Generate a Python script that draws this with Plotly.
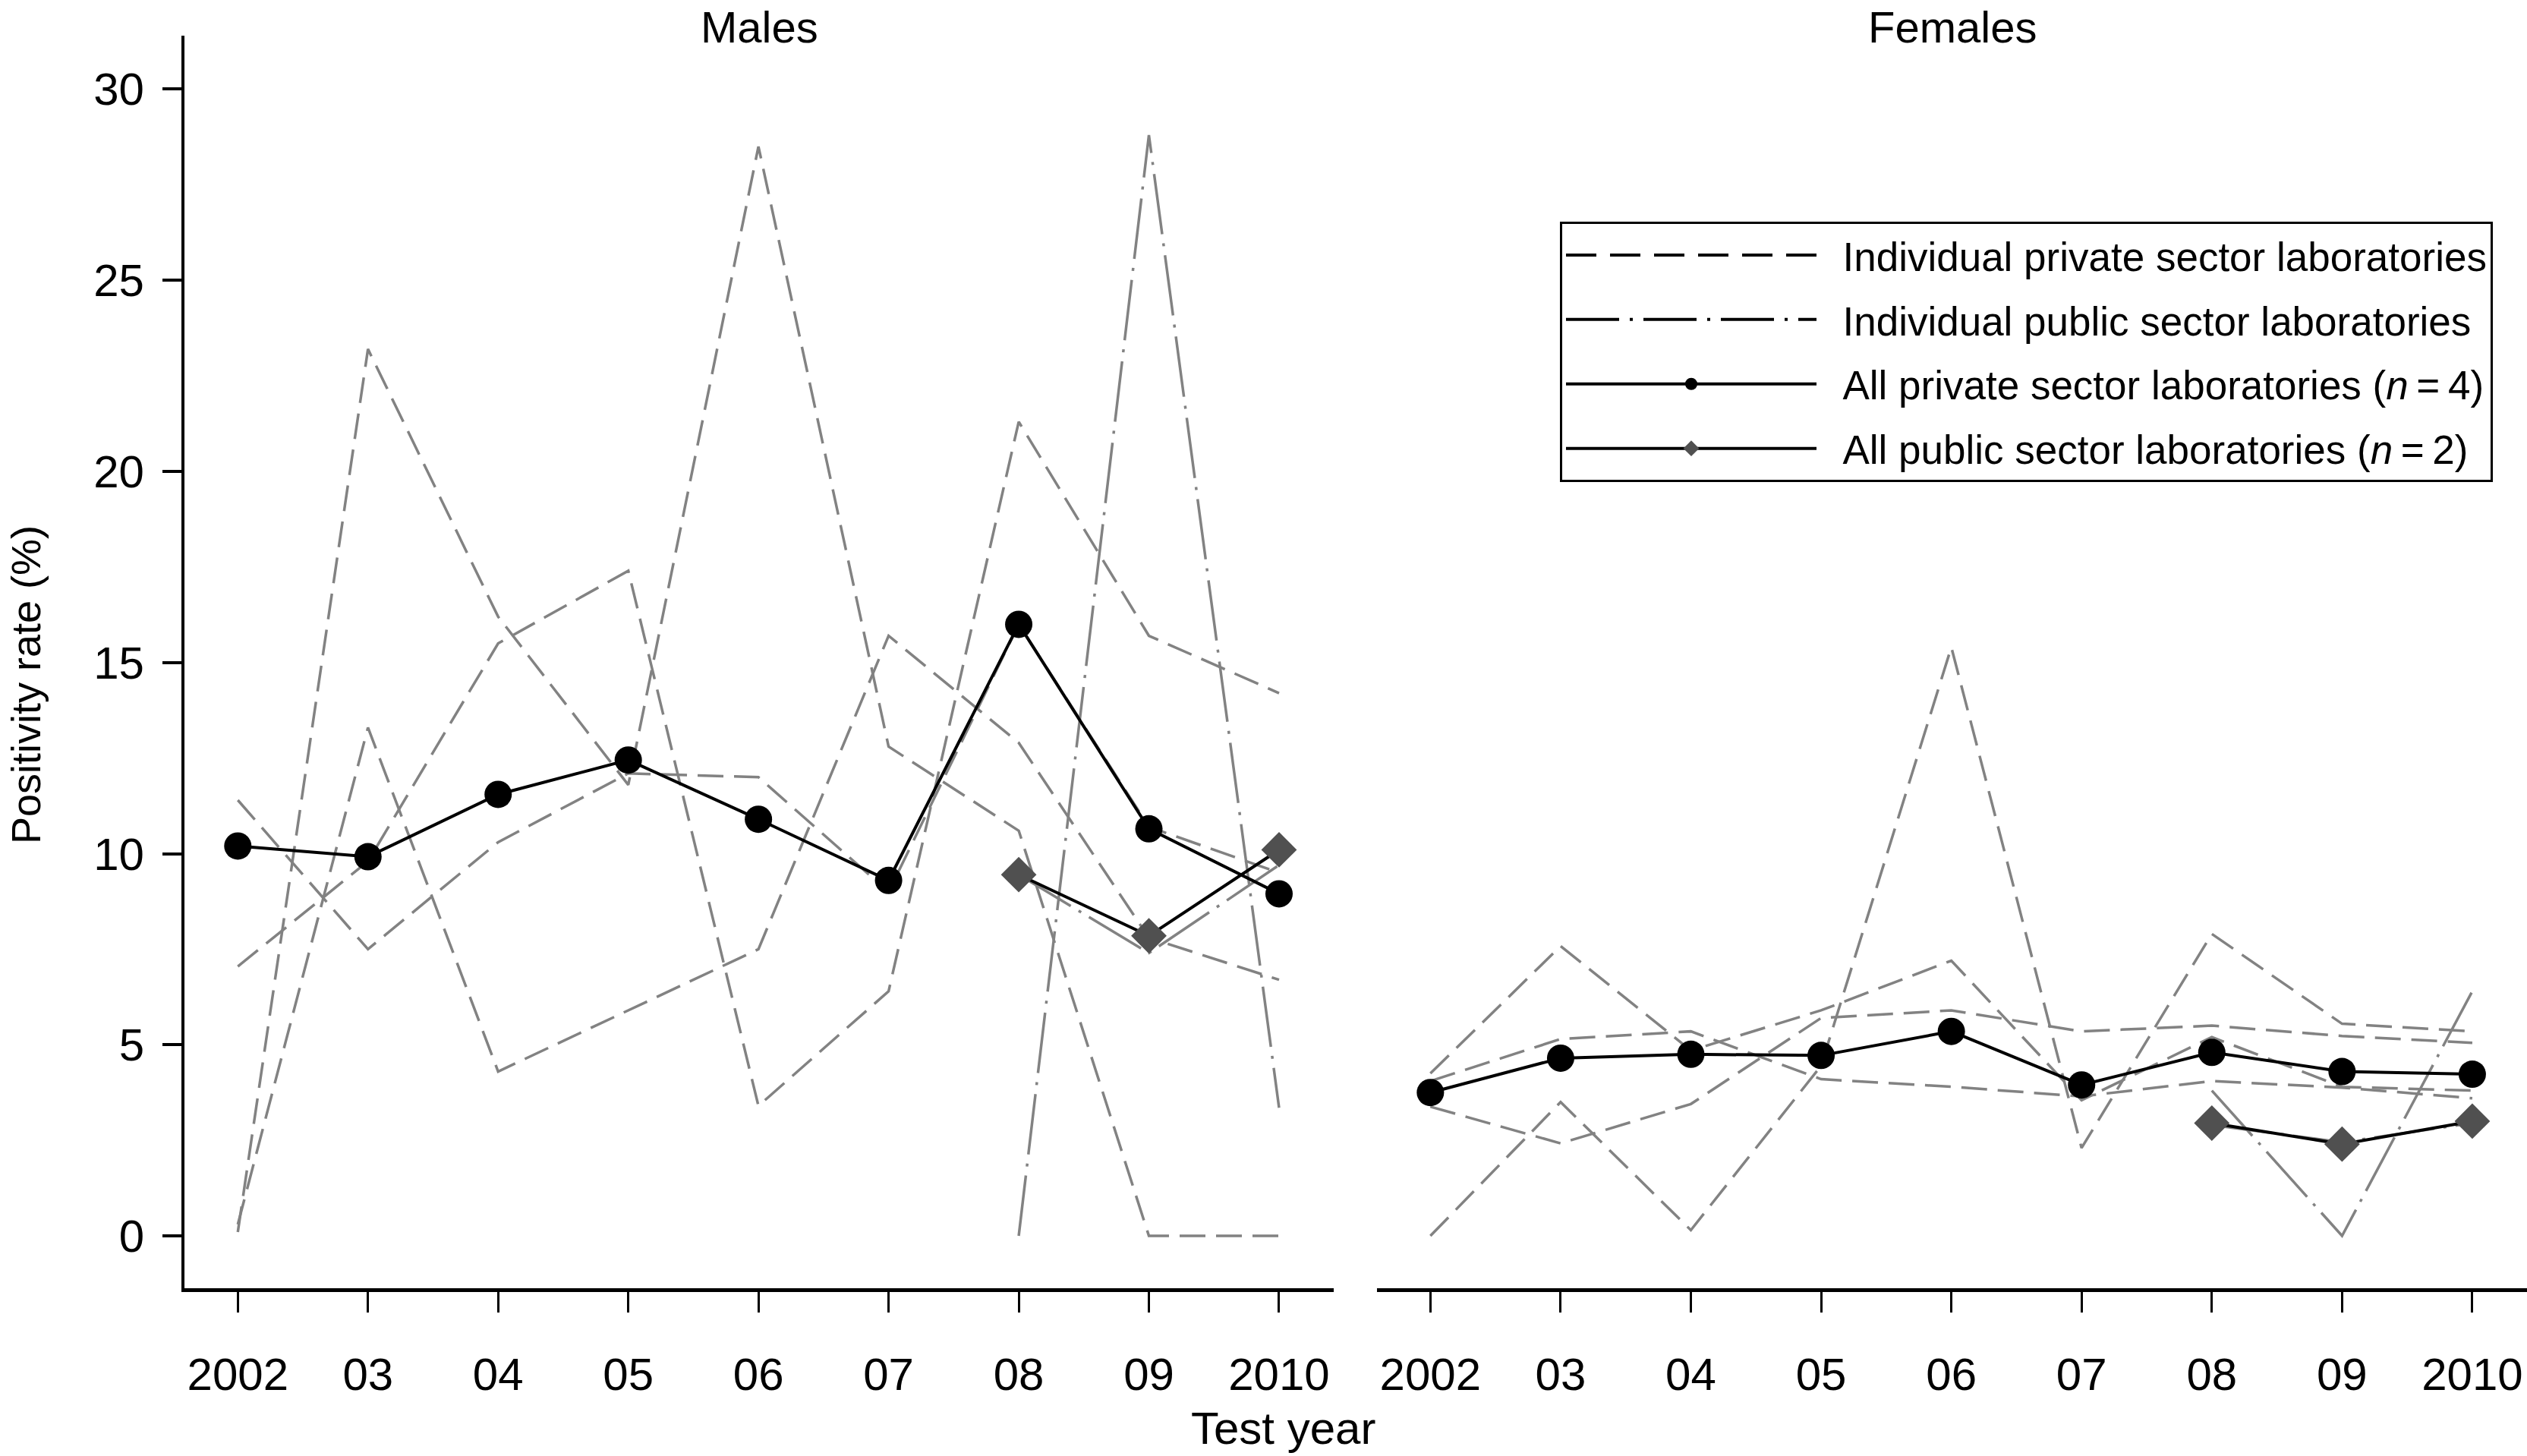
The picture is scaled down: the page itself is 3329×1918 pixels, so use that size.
import plotly.graph_objects as go

W, H = 3329, 1918
FONT = "Liberation Sans, Arial, sans-serif"

# ---------------- data ----------------
years = [2002, 2003, 2004, 2005, 2006, 2007, 2008, 2009, 2010]
tick_labels = ["2002", "03", "04", "05", "06", "07", "08", "09", "2010"]
pub_years = [2008, 2009, 2010]

# Males: individual private sector laboratories
male_priv_a = [11.4, 7.5, 10.3, 12.1, 12.0, 9.0, 16.0, 10.7, 9.5]
male_priv_b = [0.1, 23.2, 16.2, 11.8, 28.5, 12.8, 10.6, 0.0, 0.0]
male_priv_c = [7.05, 9.8, 15.5, 17.4, 3.4, 6.4, 21.3, 15.7, 14.2]
male_priv_d = [0.3, 13.3, 4.3, 5.9, 7.5, 15.7, 12.9, 7.8, 6.7]
# Males: individual public sector laboratories
male_pub_a = [0.0, 28.8, 3.35]
male_pub_b = [9.45, 7.4, 9.7]
# Males: all labs
male_all_priv = [10.2, 9.92, 11.55, 12.45, 10.9, 9.3, 16.0, 10.65, 8.95]
male_all_pub = [9.45, 7.85, 10.1]

# Females: individual private sector laboratories
fem_priv_a = [0.0, 3.5, 0.15, 4.45, 15.4, 2.3, 7.9, 5.55, 5.35]
fem_priv_b = [4.25, 7.58, 4.85, 5.9, 7.2, 3.55, 5.2, 3.9, 3.8]
fem_priv_c = [4.05, 5.15, 5.35, 4.1, 3.9, 3.65, 4.05, 3.88, 3.6]
fem_priv_d = [3.38, 2.42, 3.45, 5.7, 5.9, 5.35, 5.5, 5.23, 5.05]
# Females: individual public sector laboratories
fem_pub_a = [3.8, 0.0, 6.4]
fem_pub_b = [2.9, 2.45, 2.95]
# Females: all labs
fem_all_priv = [3.75, 4.65, 4.75, 4.72, 5.35, 3.95, 4.8, 4.3, 4.23]
fem_all_pub = [2.95, 2.4, 3.0]

NB = "\u00a0\u00a0"
legend_names = [
    NB + "Individual private sector laboratories",
    NB + "Individual public sector laboratories",
    NB + "All private sector laboratories (<i>n</i>\u2009=\u20094)",
    NB + "All public sector laboratories (<i>n</i>\u2009=\u20092)",
]

# ---------------- styles ----------------
GRAY = "rgb(130,130,130)"
DIAMOND = "rgb(80,80,80)"
DASH = "34px,14px"
DASHDOT = "80px,12px,4px,12px"

fig = go.Figure()

def add_panel(xa, ya, priv_list, pub_list, all_priv, all_pub):
    for s in priv_list:
        fig.add_trace(go.Scatter(x=years, y=s, mode="lines", xaxis=xa, yaxis=ya,
                                 line=dict(color=GRAY, width=3.5, dash=DASH),
                                 showlegend=False, hoverinfo="skip"))
    for s in pub_list:
        fig.add_trace(go.Scatter(x=pub_years, y=s, mode="lines", xaxis=xa, yaxis=ya,
                                 line=dict(color=GRAY, width=3.5, dash=DASHDOT),
                                 showlegend=False, hoverinfo="skip"))
    fig.add_trace(go.Scatter(x=years, y=all_priv, mode="lines+markers", xaxis=xa, yaxis=ya,
                             line=dict(color="black", width=4),
                             marker=dict(symbol="circle", size=36, color="black"),
                             showlegend=False))
    fig.add_trace(go.Scatter(x=pub_years, y=all_pub, mode="lines+markers", xaxis=xa, yaxis=ya,
                             line=dict(color="black", width=4),
                             marker=dict(symbol="diamond", size=36, color=DIAMOND),
                             showlegend=False))

add_panel("x", "y", [male_priv_a, male_priv_b, male_priv_c, male_priv_d],
          [male_pub_a, male_pub_b], male_all_priv, male_all_pub)
add_panel("x2", "y2", [fem_priv_a, fem_priv_b, fem_priv_c, fem_priv_d],
          [fem_pub_a, fem_pub_b], fem_all_priv, fem_all_pub)

# legend-only entries (black samples as in the original key)
leg_styles = [
    dict(mode="lines", line=dict(color="black", width=4, dash="40px,18px")),
    dict(mode="lines", line=dict(color="black", width=4, dash="70px,14px,4px,14px")),
    dict(mode="lines+markers", line=dict(color="black", width=4),
         marker=dict(symbol="circle", size=36, color="black")),
    dict(mode="lines+markers", line=dict(color="black", width=4),
         marker=dict(symbol="diamond", size=36, color=DIAMOND)),
]
for i, (name, st) in enumerate(zip(legend_names, leg_styles)):
    fig.add_trace(go.Scatter(x=[None], y=[None], name=name, xaxis="x", yaxis="y",
                             legendgroup=f"g{i}", showlegend=True, **st))

# ---------------- layout ----------------
y_dom = [(H - 1697) / H, (H - 47) / H]
x_rng = [2001.59, 2010.42]
y_rng = [-1.37, 31.4]

axis_font = dict(family=FONT, size=60, color="black")

fig.update_layout(
    width=W, height=H,
    margin=dict(l=0, r=0, t=0, b=0),
    paper_bgcolor="white", plot_bgcolor="white",
    font=dict(family=FONT, color="black"),
    xaxis=dict(domain=[243 / W, 1757 / W], range=x_rng, anchor="y",
               tickvals=years, ticktext=tick_labels, tickfont=axis_font,
               ticks="outside", ticklen=27, tickwidth=2.5, tickcolor="black",
               ticklabelstandoff=30,
               showline=True, linecolor="black", linewidth=5,
               showgrid=False, zeroline=False),
    yaxis=dict(domain=y_dom, range=y_rng, anchor="x",
               tickvals=[0, 5, 10, 15, 20, 25, 30], tickfont=axis_font,
               ticks="outside", ticklen=25, tickwidth=4, tickcolor="black",
               ticklabelstandoff=12,
               showline=True, linecolor="black", linewidth=4,
               showgrid=False, zeroline=False),
    xaxis2=dict(domain=[1814 / W, 1.0], range=x_rng, anchor="y2",
                tickvals=years, ticktext=tick_labels, tickfont=axis_font,
                ticks="outside", ticklen=27, tickwidth=2.5, tickcolor="black",
                ticklabelstandoff=30,
                showline=True, linecolor="black", linewidth=5,
                showgrid=False, zeroline=False),
    yaxis2=dict(domain=y_dom, range=y_rng, anchor="x2", visible=False,
                showgrid=False, zeroline=False),
    legend=dict(x=2055 / W, y=(H - 292) / H, xanchor="left", yanchor="top",
                bordercolor="black", borderwidth=3, bgcolor="white",
                font=dict(family=FONT, size=53, color="black"),
                itemwidth=330, tracegroupgap=13, itemclick=False,
                itemdoubleclick=False),
    annotations=[
        dict(text="Males", x=(243 + 1757) / 2 / W, y=(H - 36) / H, xref="paper", yref="paper",
             showarrow=False, xanchor="center", yanchor="middle",
             font=dict(family=FONT, size=58, color="black")),
        dict(text="Females", x=(1814 + 3329) / 2 / W, y=(H - 36) / H, xref="paper", yref="paper",
             showarrow=False, xanchor="center", yanchor="middle",
             font=dict(family=FONT, size=58, color="black")),
        dict(text="Test year", x=1690 / W, y=(H - 1881) / H, xref="paper", yref="paper",
             showarrow=False, xanchor="center", yanchor="middle",
             font=dict(family=FONT, size=60, color="black")),
        dict(text="Positivity rate (%)", x=34 / W, y=(H - 902) / H, xref="paper", yref="paper",
             showarrow=False, xanchor="center", yanchor="middle", textangle=-90,
             font=dict(family=FONT, size=54, color="black")),
    ],
)

fig.write_html("out.html", config={"displayModeBar": False},
               post_script="document.body.style.margin='0px';document.body.style.overflow='hidden';")
